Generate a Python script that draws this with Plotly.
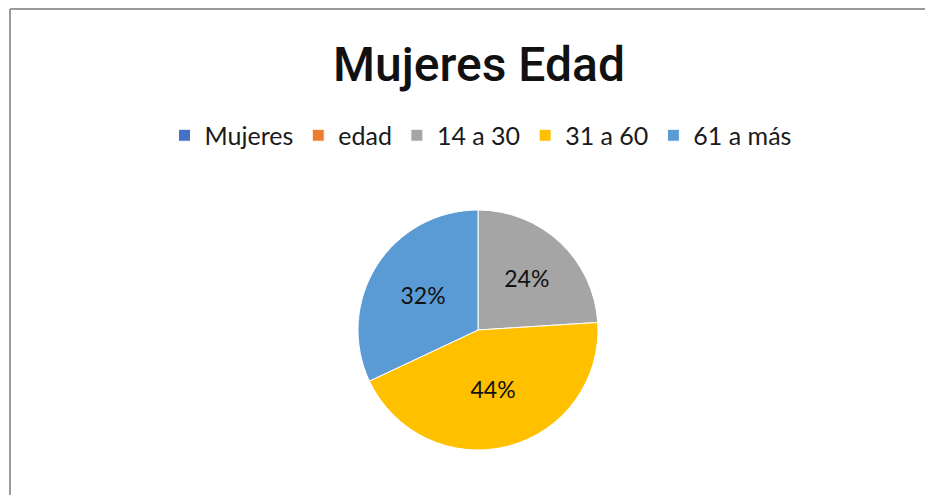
import plotly.graph_objects as go

title = "Mujeres Edad"
labels = ["Mujeres", "edad", "14 a 30", "31 a 60", "61 a más"]
values = [0, 0, 24, 44, 32]
colors = ["#4472C4", "#ED7D31", "#A5A5A5", "#FFC000", "#5B9BD5"]

# page body has an 8px margin, so the figure is drawn 8px in from the window edge
W, H = 925, 487
texttemplate = ["%{percent:.0%}" if v > 0 else "" for v in values]

cx, cy, r = 470, 322, 120

fig = go.Figure(go.Pie(
    labels=labels, values=values, sort=False, direction="clockwise", rotation=0,
    marker=dict(colors=colors, line=dict(color="white", width=1)),
    texttemplate=texttemplate, textposition="inside", insidetextorientation="horizontal",
    textfont=dict(family="Lato", size=23, color="#111111"),
    domain=dict(x=[(cx - r) / W, (cx + r) / W], y=[(H - (cy + r)) / H, (H - (cy - r)) / H]),
    hoverinfo="label+percent",
))

fig.update_layout(
    width=W, height=H, margin=dict(l=0, r=0, t=0, b=0),
    paper_bgcolor="white", plot_bgcolor="white",
    showlegend=True,
    legend=dict(orientation="h", x=472.5 / W, xanchor="center", y=(H - 127.5) / H, yanchor="middle",
                font=dict(family="Lato", size=25, color="#1a1a1a"), itemwidth=30,
                traceorder="normal"),
    annotations=[dict(text=title, x=470.5 / W, y=(H - 56) / H, xref="paper", yref="paper",
                      xanchor="center", yanchor="middle", showarrow=False,
                      font=dict(family="Roboto", size=48, color="#111111", weight=500))],
    shapes=[
        dict(type="line", xref="paper", yref="paper", x0=2 / W, x1=1.01, y0=(H - 1) / H, y1=(H - 1) / H,
             line=dict(color="#9a9a9a", width=2)),
        dict(type="line", xref="paper", yref="paper", x0=2 / W, x1=2 / W, y0=-0.01, y1=(H - 1) / H,
             line=dict(color="#9a9a9a", width=2)),
    ],
)

fig.write_html("out.html")
